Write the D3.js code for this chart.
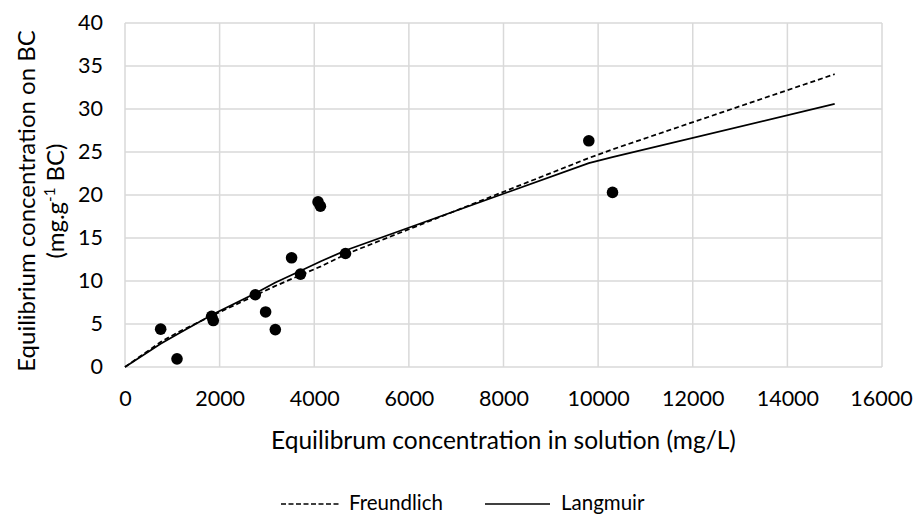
<!DOCTYPE html>
<html>
<head>
<meta charset="utf-8">
<script src="https://cdn.jsdelivr.net/npm/d3@7/dist/d3.min.js"></script>
<style>
  html, body { margin: 0; padding: 0; background: #fff; }
  svg { display: block; font-family: Lato, "Open Sans", sans-serif; }
</style>
</head>
<body>
<svg id="chart" width="913" height="517"></svg>
<script>
// Measured adsorption data (mg/L in solution vs mg/g on biochar)
const obsC = [754, 1099, 1831, 1866, 2754, 2972, 3177, 3521, 3709, 4080, 4130, 4660, 9803, 10304];
const obsQ = [4.4, 0.95, 5.9, 5.4, 8.4, 6.4, 4.35, 12.7, 10.8, 19.2, 18.7, 13.2, 26.3, 20.3];

// Fitted isotherm curves, sampled at the measured concentrations
const fitC = [0, 754, 1106, 1850, 2768, 3169, 3715, 4141, 4684, 9803, 10302, 15000];
const freundlichQ = [0, 2.9, 4.0, 6.0, 8.35, 9.4, 10.7, 11.7, 13.15, 24.3, 25.3, 34.05];
const langmuirQ   = [0, 2.7, 3.8, 6.1, 8.6, 9.8, 11.2, 12.3, 13.6, 23.7, 24.4, 30.6];

const xTicks = [0, 2000, 4000, 6000, 8000, 10000, 12000, 14000, 16000];
const yTicks = [0, 5, 10, 15, 20, 25, 30, 35, 40];

const svg = d3.select("#chart");
const plot = { left: 125, right: 882, top: 23, bottom: 367 };

const x = d3.scaleLinear().domain([0, 16000]).range([plot.left, plot.right]);
const y = d3.scaleLinear().domain([0, 40]).range([plot.bottom, plot.top]);

const gridColor = "#d9d9d9";

// Gridlines
svg.append("g").selectAll("line").data(xTicks).join("line")
  .attr("x1", d => x(d)).attr("x2", d => x(d))
  .attr("y1", plot.top).attr("y2", plot.bottom)
  .attr("stroke", gridColor).attr("stroke-width", 1.5);
svg.append("g").selectAll("line").data(yTicks).join("line")
  .attr("x1", plot.left).attr("x2", plot.right)
  .attr("y1", d => y(d)).attr("y2", d => y(d))
  .attr("stroke", gridColor).attr("stroke-width", 1.5);

// Axes (labels only, lines come from the grid)
const tickFont = 21.5;
const xAxis = svg.append("g")
  .attr("transform", `translate(0,${plot.bottom})`)
  .call(d3.axisBottom(x).tickValues(xTicks).tickSize(0).tickPadding(0).tickFormat(d3.format("d")));
xAxis.select(".domain").remove();
xAxis.selectAll("text")
  .attr("y", 31).attr("dy", "0.35em")
  .attr("font-size", tickFont).attr("fill", "#000").attr("font-family", "Lato, sans-serif");
// keep the last label inside the canvas
xAxis.selectAll(".tick").filter(d => d === 16000).select("text").attr("x", -1);

const yAxis = svg.append("g")
  .attr("transform", `translate(${plot.left},0)`)
  .call(d3.axisLeft(y).tickValues(yTicks).tickSize(0).tickPadding(22).tickFormat(d3.format("d")));
yAxis.select(".domain").remove();
yAxis.selectAll("text").attr("font-size", tickFont).attr("fill", "#000").attr("font-family", "Lato, sans-serif");

// Fitted curves
const line = d3.line().x(d => x(d[0])).y(d => y(d[1]));
svg.append("path")
  .datum(fitC.map((c, i) => [c, freundlichQ[i]]))
  .attr("d", line).attr("fill", "none")
  .attr("stroke", "#000").attr("stroke-width", 1.75)
  .attr("stroke-dasharray", "5,3");
svg.append("path")
  .datum(fitC.map((c, i) => [c, langmuirQ[i]]))
  .attr("d", line).attr("fill", "none")
  .attr("stroke", "#000").attr("stroke-width", 1.75);

// Observations
svg.append("g").selectAll("circle").data(obsC.map((c, i) => [c, obsQ[i]])).join("circle")
  .attr("cx", d => x(d[0])).attr("cy", d => y(d[1]))
  .attr("r", 5.8).attr("fill", "#000");

// Axis titles
svg.append("text")
  .attr("x", (plot.left + plot.right) / 2 + 0).attr("y", 449)
  .attr("text-anchor", "middle").attr("font-size", 24.5)
  .text("Equilibrum concentration in solution (mg/L)");

const yTitle = svg.append("text")
  .attr("transform", `translate(0,${(plot.top + plot.bottom) / 2 + 6}) rotate(-90)`)
  .attr("text-anchor", "middle").attr("font-size", 24);
yTitle.append("tspan").attr("x", 0).attr("y", 35).text("Equilibrium concentration on BC");
const l2 = yTitle.append("tspan").attr("x", 0).attr("y", 64);
l2.append("tspan").text("(mg.g");
l2.append("tspan").attr("font-size", 15).attr("baseline-shift", "super").text("-1");
l2.append("tspan").text(" BC)");

// Legend
const legend = svg.append("g").attr("transform", "translate(0,510)");
legend.append("line").attr("x1", 281).attr("x2", 341).attr("y1", -6).attr("y2", -6)
  .attr("stroke", "#000").attr("stroke-width", 1.5).attr("stroke-dasharray", "5,2.5");
legend.append("text").attr("x", 349).attr("y", 0).attr("font-size", 20.5).text("Freundlich");
legend.append("line").attr("x1", 485).attr("x2", 550).attr("y1", -6).attr("y2", -6)
  .attr("stroke", "#000").attr("stroke-width", 1.5);
legend.append("text").attr("x", 561).attr("y", 0).attr("font-size", 20.5).text("Langmuir");
</script>
</body>
</html>
